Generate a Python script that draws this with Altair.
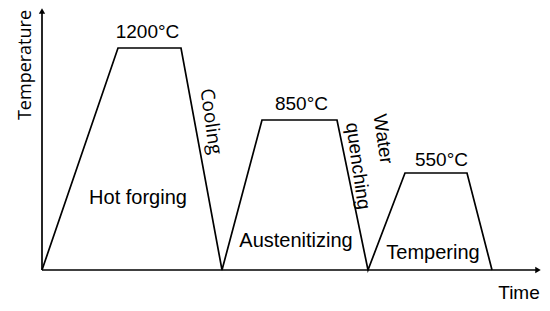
import altair as alt
import pandas as pd

# Heat-treatment profile (time in arbitrary units, temperature level in arbitrary units)
time_pts = [0, 76, 139, 180, 220, 295, 326, 363, 425, 450]
level_pts = [0, 222, 222, 0, 150, 150, 0, 97, 97, 0]

# axis extents
axis_x_end = 496
axis_y_end = 259

# plateau temperature labels
plateau_labels = ["1200°C", "850°C", "550°C"]
plateau_x = [105.5, 259.5, 399.5]
plateau_y = [232, 160, 104]

# stage labels (horizontal)
stage_labels = ["Hot forging", "Austenitizing", "Tempering"]
stage_x = [96, 254, 391]
stage_y = [66, 23.5, 11]

# rotated process labels
proc_labels = ["Cooling", "Water", "quenching"]
proc_x = [169, 341, 316]
proc_y = [148.5, 131, 104]
proc_font = ["Open Sans", "Liberation Sans", "Liberation Sans"]

W, H = 534, 295
xs = alt.Scale(domain=[-34, 500], range=[0, W], zero=False, nice=False)
ys = alt.Scale(domain=[-33, 262], zero=False, nice=False)

X = lambda f: alt.X(f, type="quantitative", scale=xs, axis=None)
Y = lambda f: alt.Y(f, type="quantitative", scale=ys, axis=None)

prof = pd.DataFrame({"t": time_pts, "v": level_pts, "i": range(len(time_pts))})
profile = alt.Chart(prof).mark_line(color="black", strokeWidth=1.7, clip=False).encode(
    x=X("t"), y=Y("v"), order="i:Q")

axes_df = pd.DataFrame({"x": [0, 0], "y": [0, 0], "x2": [axis_x_end, 0], "y2": [0, axis_y_end]})
axes = alt.Chart(axes_df).mark_rule(color="black", strokeWidth=1.7).encode(
    x=X("x"), y=Y("y"), x2="x2", y2="y2")

arr_x = alt.Chart(pd.DataFrame({"x": [axis_x_end], "y": [0]})).mark_point(
    shape="triangle-right", filled=True, color="black", size=40, opacity=1).encode(x=X("x"), y=Y("y"))
arr_y = alt.Chart(pd.DataFrame({"x": [0], "y": [axis_y_end]})).mark_point(
    shape="triangle-up", filled=True, color="black", size=40, opacity=1).encode(x=X("x"), y=Y("y"))

plateau = alt.Chart(pd.DataFrame({"x": plateau_x, "y": plateau_y, "s": plateau_labels})).mark_text(
    font="Liberation Sans", fontSize=19, baseline="alphabetic", align="center", color="black").encode(
    x=X("x"), y=Y("y"), text="s:N")

stages = alt.Chart(pd.DataFrame({"x": stage_x, "y": stage_y, "s": stage_labels})).mark_text(
    font="Liberation Sans", fontSize=20, baseline="alphabetic", align="center", color="black").encode(
    x=X("x"), y=Y("y"), text="s:N")

proc_layers = []
for lab, px, py, fnt in zip(proc_labels, proc_x, proc_y, proc_font):
    proc_layers.append(
        alt.Chart(pd.DataFrame({"x": [px], "y": [py], "s": [lab]})).mark_text(
            font=fnt, fontSize=19, baseline="middle", align="center", angle=82, color="black").encode(
            x=X("x"), y=Y("y"), text="s:N"))

temp_lbl = alt.Chart(pd.DataFrame({"x": [-16], "y": [205], "s": ["Temperature"]})).mark_text(
    font="Open Sans", fontSize=18, baseline="middle", align="center", angle=270, color="black").encode(
    x=X("x"), y=Y("y"), text="s:N")

time_lbl = alt.Chart(pd.DataFrame({"x": [477], "y": [-28.5], "s": ["Time"]})).mark_text(
    font="Liberation Sans", fontSize=19, baseline="alphabetic", align="center", color="black").encode(
    x=X("x"), y=Y("y"), text="s:N")

chart = alt.layer(profile, axes, arr_x, arr_y, plateau, stages, *proc_layers, temp_lbl, time_lbl).properties(
    width=W, height=H, autosize=alt.AutoSizeParams(type="none"), padding=0, background="white"
).configure_view(stroke=None)

chart.save("out.html", embed_options={"renderer": "svg", "actions": False})
